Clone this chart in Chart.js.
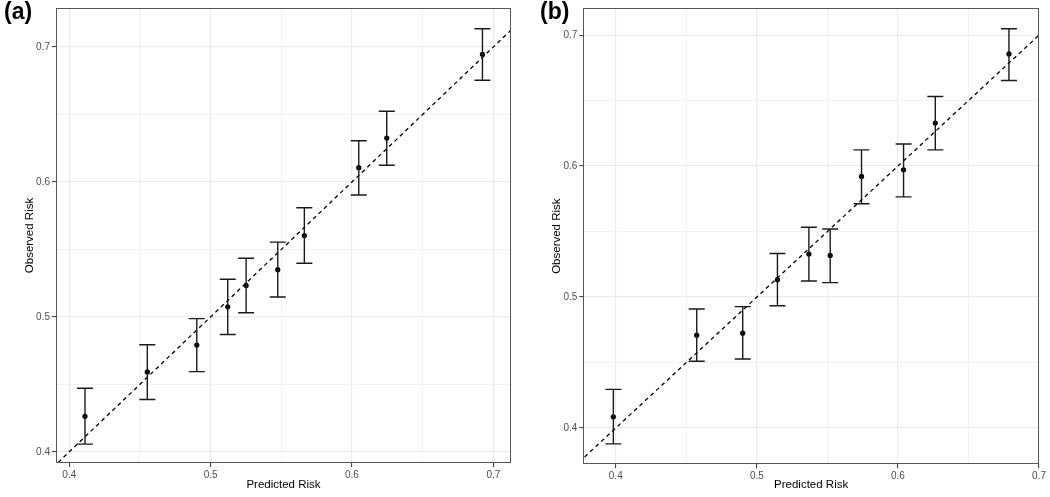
<!DOCTYPE html>
<html>
<head>
<meta charset="utf-8">
<script src="https://cdn.jsdelivr.net/npm/chart.js@4"></script>
<style>
  html, body { margin:0; padding:0; background:#fff; }
  #wrap { position:relative; width:1050px; height:497px; overflow:hidden; font-family:"Liberation Sans", Arial, sans-serif; }
  .panel { position:absolute; top:0; width:525px; height:497px; }
  .tag { position:absolute; top:0; font-weight:bold; font-size:23px; line-height:1; color:#000; }
</style>
</head>
<body>
<div id="wrap">
  <div class="panel" style="left:0"><canvas id="chartA"></canvas></div>
  <div class="panel" style="left:525px"><canvas id="chartB"></canvas></div>
  <div class="tag" style="left:4px">(a)</div>
  <div class="tag" style="left:540px">(b)</div>
</div>
<script>
/* Calibration plots: observed vs predicted risk with 95% CI */

// shared axis breaks
const gridVals  = [0.4, 0.45, 0.5, 0.55, 0.6, 0.65, 0.7];
const diagVals  = [0.3, 0.8];

// panel (a)
const aPredicted = [0.4111, 0.4552, 0.4902, 0.5121, 0.5251, 0.5475, 0.5663, 0.6048, 0.6246, 0.6923];
const aObserved  = [0.4263, 0.4592, 0.4791, 0.5075, 0.5233, 0.5350, 0.5603, 0.6106, 0.6325, 0.6946];
const aLower     = [0.4057, 0.4388, 0.4594, 0.4869, 0.5031, 0.5147, 0.5397, 0.5903, 0.6124, 0.6754];
const aUpper     = [0.4471, 0.4793, 0.4987, 0.5279, 0.5434, 0.5554, 0.5809, 0.6305, 0.6524, 0.7135];
const aXRange    = [0.3906, 0.7125];
const aYRange    = [0.3917, 0.7289];

// panel (b)
const bPredicted = [0.3983, 0.4574, 0.4900, 0.5146, 0.5369, 0.5520, 0.5742, 0.6040, 0.6265, 0.6787];
const bObserved  = [0.4086, 0.4709, 0.4724, 0.5133, 0.5328, 0.5318, 0.5921, 0.5972, 0.6328, 0.6856];
const bLower     = [0.3879, 0.4510, 0.4527, 0.4934, 0.5123, 0.5110, 0.5712, 0.5765, 0.6124, 0.6654];
const bUpper     = [0.4295, 0.4909, 0.4927, 0.5333, 0.5533, 0.5520, 0.6124, 0.6169, 0.6531, 0.7048];
const bXRange    = [0.377, 0.7];
const bYRange    = [0.3723, 0.7207];

const isMajor = v => Math.abs(v*10 - Math.round(v*10)) < 1e-6;

function axisOpts(range, title, fixSize, titlePad) {
  return {
    type: 'linear',
    min: range[0], max: range[1],
    afterBuildTicks: s => { s.ticks = gridVals.filter(v => v >= range[0] && v <= range[1]).map(v => ({ value: v })); },
    afterFit: fixSize,
    ticks: {
      autoSkip: false, maxRotation: 0, padding: 2,
      color: '#4d4d4d',
      font: { family: '"Liberation Sans", Arial, sans-serif', size: 10 },
      callback: v => isMajor(v) ? v.toFixed(1) : ''
    },
    grid: {
      drawTicks: true, tickLength: 4, tickWidth: 1,
      tickColor: ctx => isMajor(ctx.tick.value) ? '#333333' : 'rgba(0,0,0,0)',
      color: ctx => isMajor(ctx.tick.value) ? '#ebebeb' : '#f2f2f2',
      lineWidth: ctx => isMajor(ctx.tick.value) ? 1.2 : 1
    },
    border: { display: false },
    title: {
      display: true, text: title, color: '#000',
      font: { family: '"Liberation Sans", Arial, sans-serif', size: 11.5 },
      padding: titlePad
    }
  };
}

function makeChart(id, xs, ys, lo, hi, xRange, yRange, yWidth, xHeight, rightPad, yTitlePad) {
  const errorBars = {
    id: 'errorBars',
    afterDatasetsDraw(chart) {
      const { ctx, scales: { x, y } } = chart;
      ctx.save();
      ctx.strokeStyle = '#1a1a1a';
      ctx.lineWidth = 1.4;
      xs.forEach((xv, i) => {
        const px = x.getPixelForValue(xv);
        const pt = y.getPixelForValue(hi[i]);
        const pb = y.getPixelForValue(lo[i]);
        ctx.beginPath();
        ctx.moveTo(px, pt); ctx.lineTo(px, pb);
        ctx.moveTo(px - 8, pt); ctx.lineTo(px + 8, pt);
        ctx.moveTo(px - 8, pb); ctx.lineTo(px + 8, pb);
        ctx.stroke();
      });
      ctx.restore();
    },
    afterDraw(chart) {
      const { ctx, chartArea: a } = chart;
      ctx.save();
      ctx.strokeStyle = '#555555';
      ctx.lineWidth = 1;
      ctx.strokeRect(Math.round(a.left) + 0.5, Math.round(a.top) + 0.5,
                     Math.round(a.right - a.left) - 1, Math.round(a.bottom - a.top) - 1);
      ctx.restore();
    }
  };

  return new Chart(document.getElementById(id), {
    type: 'scatter',
    data: {
      datasets: [
        {
          type: 'line',
          data: diagVals.map(v => ({ x: v, y: v })),
          borderColor: '#000', borderWidth: 1.3, borderDash: [4, 3.5],
          pointRadius: 0, fill: false
        },
        {
          data: xs.map((v, i) => ({ x: v, y: ys[i] })),
          backgroundColor: '#000', borderWidth: 0, pointRadius: 2.6
        }
      ]
    },
    options: {
      responsive: true, maintainAspectRatio: false,
      animation: false, events: [],
      layout: { padding: { top: 5, right: rightPad, left: 0, bottom: 0 } },
      plugins: { legend: { display: false }, tooltip: { enabled: false } },
      scales: {
        x: axisOpts(xRange, 'Predicted Risk', s => { s.height = xHeight; }, { top: 0, bottom: 5 }),
        y: axisOpts(yRange, 'Observed Risk', s => { s.width = yWidth; }, { top: yTitlePad, bottom: 0 })
      }
    },
    plugins: [errorBars]
  });
}

makeChart('chartA', aPredicted, aObserved, aLower, aUpper, aXRange, aYRange, 56, 34, 14, 22.6);
makeChart('chartB', bPredicted, bObserved, bLower, bUpper, bXRange, bYRange, 58.3, 32.7, 11, 24.9);
</script>
</body>
</html>
